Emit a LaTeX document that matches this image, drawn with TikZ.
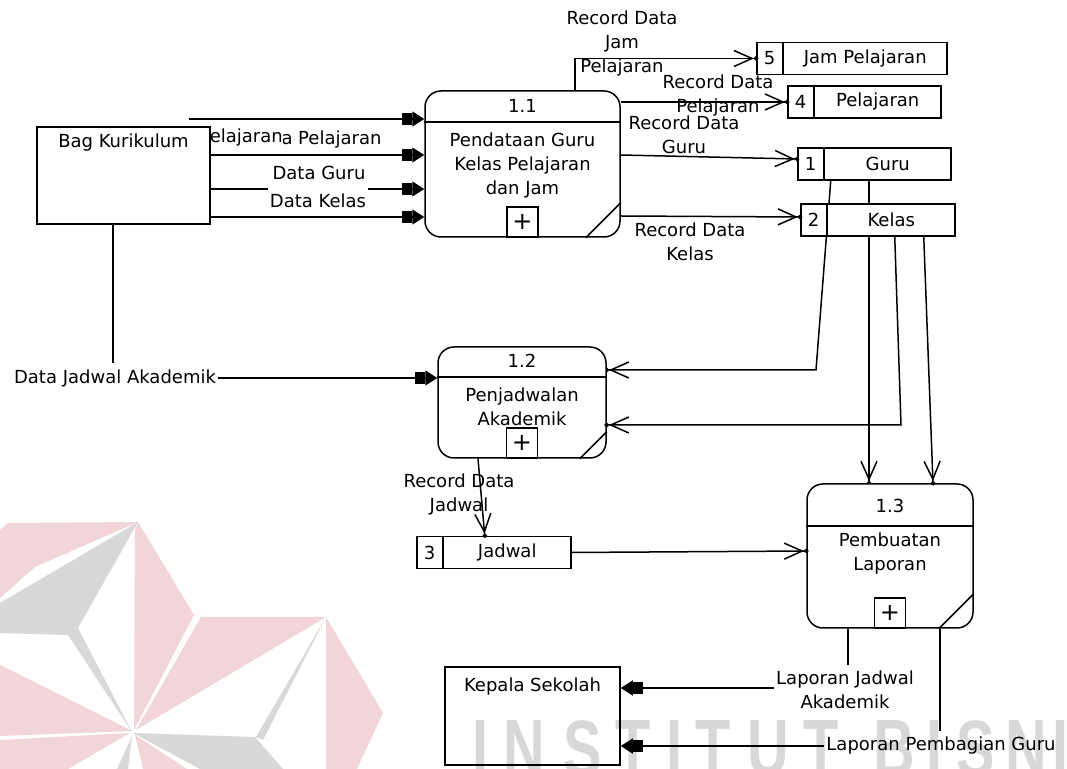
\documentclass[tikz,border=0pt]{standalone}
\usepackage{fontspec}
\setmainfont{DejaVu Sans}
\newfontfamily\wmfont{Liberation Sans}
\usetikzlibrary{arrows.meta,calc,backgrounds}

\definecolor{wmpink}{HTML}{F2D5D9}
\definecolor{wmgray}{HTML}{D8D8D8}

\tikzset{
  entity/.style={draw, fill=white, inner sep=0pt},
  proc/.style={draw, fill=white, rounded corners=8pt, inner sep=0pt},
  store/.style={draw, fill=white, inner sep=0pt, minimum height=16pt},
  plusbox/.style={draw, fill=white, minimum width=15.5pt, minimum height=15pt, inner sep=0pt, font=\fontsize{12}{12}\selectfont},
  lbl/.style={fill=white, inner xsep=1pt, inner ysep=3pt, align=center},
  note/.style={align=center},
  flow/.style={-{Rectangle[length=5pt,width=6pt]Triangle[length=6pt,width=7.5pt]}},
  dflow/.style={-{Straight Barb[length=9pt,width=8pt]Circle[length=2.2pt,sep=-1.1pt]}},
  wmtext/.style={text=wmgray, anchor=north, inner sep=0pt, xscale=0.72, font=\wmfont\bfseries\fontsize{40}{40}\selectfont},
}

% process: name, number, title, divider, number pos, title top, corner cut
\newcommand{\procparts}[7]{%
  \draw ([yshift=-#4]#1.north west) -- ([yshift=-#4]#1.north east);
  \node at ([yshift=-#5]#1.north) {#2};
  \node at ([yshift=-#6]#1.north) [anchor=north, inner sep=0pt, align=center] {#3};
  \node at (#1.south) [plusbox, anchor=south] {+};
  \draw ([xshift=-#7]#1.south east) -- ([yshift=#7]#1.south east);
}

% data store: name, west point, width, number, title
\newcommand{\datastore}[5]{%
  \node (#1) at #2 [store, anchor=west, minimum width=#3] {};
  \draw ([xshift=13.5pt]#1.north west) -- ([xshift=13.5pt]#1.south west);
  \node at ([xshift=6.75pt]#1.west) {#4};
  \node at ($([xshift=13.5pt]#1.west)!0.5!(#1.east)$) {#5};
}

\begin{document}
\begin{tikzpicture}[x=0.5pt, y=-0.5pt, line width=0.75pt, font=\fontsize{9}{12}\selectfont]
\useasboundingbox (0,0) rectangle (1067,769);

% external entities
\node (kurikulum) at (123.5,175.5) [entity, minimum width=86.5pt, minimum height=48.5pt] {};
\node at ([yshift=-8pt]kurikulum.north) {Bag Kurikulum};
\node (kepsek) at (532.5,716) [entity, minimum width=87.5pt, minimum height=49pt] {};
\node at ([yshift=-10pt]kepsek.north) {Kepala Sekolah};

% processes
\node (p11) at (522.5,164) [proc, minimum width=97.5pt, minimum height=73pt] {};
\procparts{p11}{1.1}{Pendataan Guru\\Kelas Pelajaran\\dan Jam}{16pt}{8pt}{21pt}{17.5pt}
\node (p12) at (522,402.5) [proc, minimum width=84pt, minimum height=55.5pt] {};
\procparts{p12}{1.2}{Penjadwalan\\Akademik}{15.5pt}{7.5pt}{20.5pt}{13.5pt}
\node (p13) at (890,556) [proc, minimum width=83pt, minimum height=72pt] {};
\procparts{p13}{1.3}{Pembuatan\\Laporan}{21.5pt}{11.5pt}{24.5pt}{17.5pt}

% data stores
\datastore{dsjam}{(756,58.5)}{95pt}{5}{Jam Pelajaran}
\datastore{dspel}{(787,102)}{76.5pt}{4}{Pelajaran}
\datastore{dsguru}{(797,164)}{76.5pt}{1}{Guru}
\datastore{dskelas}{(800,220)}{77pt}{2}{Kelas}
\datastore{dsjadwal}{(416,552.5)}{77pt}{3}{Jadwal}

% flows hidden behind boxes
\begin{scope}[on background layer={line width=0.75pt, font=\fontsize{9}{12}\selectfont}]
\coordinate (jamsrc) at (189,119);
\draw[flow] ([yshift=10.25pt]kurikulum.east) -- ([yshift=10.25pt]kurikulum.east -| p11.west);
\node at (315.5,140) [lbl, inner ysep=1pt] {Data Pelajaran};
\draw[flow] (jamsrc) -- (jamsrc -| p11.west);
\node at (197,138) [lbl, inner xsep=0pt, inner ysep=1pt] {Data Jam Pelajaran};
\coordinate (gurubend) at (816,370);
\draw[dflow] ([xshift=-21.75pt]dsguru.south) -- (gurubend) -- (gurubend -| p12.east);
\draw[dflow] ([xshift=-10.5pt]p13.north |- dsguru.south) -- ([xshift=-10.5pt]p13.north);
\end{scope}

% Bag Kurikulum to 1.1
\draw[flow] ([yshift=-6.75pt]kurikulum.east) -- ([yshift=-6.75pt]kurikulum.east -| p11.west);
\node at (319,173) [lbl] {Data Guru};
\draw[flow] ([yshift=-20.75pt]kurikulum.east) -- ([yshift=-20.75pt]kurikulum.east -| p11.west);
\node at (318,201) [lbl] {Data Kelas};

% Bag Kurikulum to 1.2
\draw[flow] ([xshift=-5.25pt]kurikulum.south) |- ([yshift=12.25pt]p12.west);
\node at (115,378) [lbl] {Data Jadwal Akademik};

% 1.1 to stores
\draw[dflow] ([xshift=26.25pt]p11.north) |- (dsjam.west);
\node at (622,44) [note] {Record Data\\Jam\\Pelajaran};
\draw[dflow] (p11.east |- dspel.west) -- (dspel.west);
\node at (718,96) [note] {Record Data\\Pelajaran};
\draw[dflow] ([yshift=4.5pt]p11.east) -- ([yshift=2.5pt]dsguru.west);
\node at (684,135) [note] {Record Data\\Guru};
\draw[dflow] ([yshift=-26pt]p11.east) -- ([yshift=1.5pt]dskelas.west);
\node at (690,242) [note] {Record Data\\Kelas};

% Kelas to 1.2 and 1.3
\coordinate (kelasbend) at (901,425);
\draw[dflow] ([xshift=8.5pt]dskelas.south) -- (kelasbend) -- (kelasbend -| p12.east);
\draw[dflow] ([xshift=23pt]dskelas.south) -- ([xshift=21.5pt]p13.north);

% 1.2 to Jadwal, Jadwal to 1.3
\draw[dflow] ([xshift=-22pt]p12.south) -- ([xshift=-4.5pt]dsjadwal.north);
\node at (459,494) [note] {Record Data\\Jadwal};
\draw[dflow] (dsjadwal.east) -- ([yshift=2.5pt]p13.west);

% 1.3 to Kepala Sekolah
\draw[flow] ([xshift=-21pt]p13.south) |- ([yshift=14pt]kepsek.east);
\node at (845,690) [lbl] {Laporan Jadwal\\Akademik};
\draw[flow] ([xshift=25pt]p13.south) |- ([yshift=-15pt]kepsek.east);
\node at (941,746) [lbl] {Laporan Pembagian Guru};

% watermark
\begin{scope}[blend mode=multiply]
\fill[wmpink] (0,530) -- (8,523) -- (138,522) -- (35,567) -- (0,598) -- cycle;
\fill[wmpink] (138,522) -- (194,615) -- (134,730) -- (135,530) -- cycle;
\fill[wmpink] (0,665) -- (132,731) -- (0,736) -- cycle;
\fill[wmpink] (0,740) -- (130,733) -- (68,769) -- (0,769) -- cycle;
\fill[wmpink] (201,617) -- (326,617) -- (136,730) -- cycle;
\fill[wmpink] (326,617) -- (383,713) -- (357,769) -- (326,769) -- cycle;
\fill[wmpink] (135,735) -- (187,769) -- (143,769) -- cycle;
\fill[wmgray] (138,522) -- (0,603) -- (0,633) -- (68,635) -- (132,732) -- (78,628) -- cycle;
\fill[wmgray] (133,733) -- (255,737) -- (283,769) -- (200,769) -- cycle;
\fill[wmgray] (326,617) -- (263,740) -- (256,737) -- cycle;
\fill[wmgray] (117,769) -- (132,736) -- (128,769) -- cycle;
\foreach \ch/\cx in {I/480,N/524,S/583,T/633,I/674,T/713,U/768,T/821,B/894,I/934,S/976,N/1026,I/1060}
  \node[wmtext] at (\cx,720) {\ch};
\end{scope}
\end{tikzpicture}
\end{document}
